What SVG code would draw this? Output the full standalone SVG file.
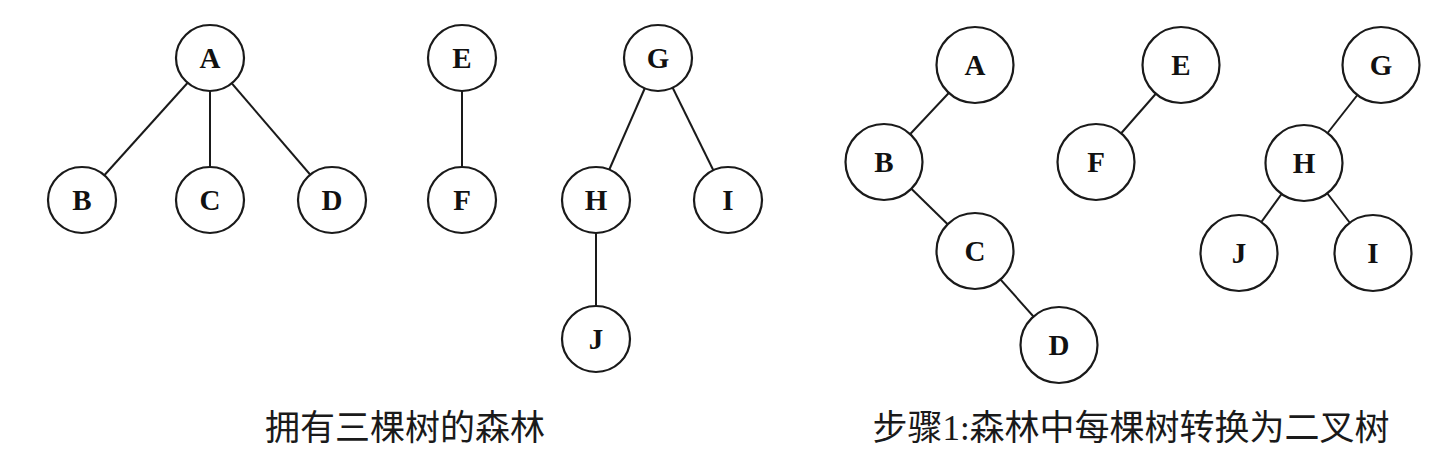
<svg xmlns="http://www.w3.org/2000/svg" width="1434" height="453" viewBox="0 0 1434 453">
<style>
.n ellipse{fill:#fff;stroke:#1a1a1a;stroke-width:2.2}
.n text{font-family:"Liberation Serif","DejaVu Serif",serif;font-size:29px;text-anchor:middle;fill:#111;font-weight:bold}
.e line{stroke:#1a1a1a;stroke-width:2}
.cap{font-family:"Liberation Serif","Noto Sans CJK SC",serif;font-size:35px;fill:#1a1a1a;text-anchor:middle}
</style>
<rect width="1434" height="453" fill="#fff"/>
<g id="connectors" class="e">
<line x1="210" y1="58" x2="82" y2="200"/>
<line x1="210" y1="58" x2="210" y2="200"/>
<line x1="210" y1="58" x2="332" y2="200"/>
<line x1="462" y1="58" x2="462" y2="200"/>
<line x1="658" y1="58" x2="596" y2="200"/>
<line x1="658" y1="58" x2="728" y2="200"/>
<line x1="596" y1="200" x2="596" y2="339"/>
<line x1="975" y1="65" x2="884" y2="162"/>
<line x1="884" y1="162" x2="975" y2="251"/>
<line x1="975" y1="251" x2="1059" y2="345"/>
<line x1="1181" y1="65" x2="1096" y2="162"/>
<line x1="1381" y1="65" x2="1304" y2="163"/>
<line x1="1304" y1="163" x2="1239" y2="253"/>
<line x1="1304" y1="163" x2="1373" y2="253"/>
</g>
<g id="L_A" class="n"><ellipse cx="210" cy="58" rx="34" ry="33"/><text x="210" y="68">A</text></g>
<g id="L_B" class="n"><ellipse cx="82" cy="200" rx="34" ry="33"/><text x="82" y="210">B</text></g>
<g id="L_C" class="n"><ellipse cx="210" cy="200" rx="34" ry="33"/><text x="210" y="210">C</text></g>
<g id="L_D" class="n"><ellipse cx="332" cy="200" rx="34" ry="33"/><text x="332" y="210">D</text></g>
<g id="L_E" class="n"><ellipse cx="462" cy="58" rx="34" ry="33"/><text x="462" y="68">E</text></g>
<g id="L_F" class="n"><ellipse cx="462" cy="200" rx="34" ry="33"/><text x="462" y="210">F</text></g>
<g id="L_G" class="n"><ellipse cx="658" cy="58" rx="34" ry="33"/><text x="658" y="68">G</text></g>
<g id="L_H" class="n"><ellipse cx="596" cy="200" rx="34" ry="33"/><text x="596" y="210">H</text></g>
<g id="L_I" class="n"><ellipse cx="728" cy="200" rx="34" ry="33"/><text x="728" y="210">I</text></g>
<g id="L_J" class="n"><ellipse cx="596" cy="339" rx="34" ry="33"/><text x="596" y="349">J</text></g>
<g id="R_A" class="n"><ellipse cx="975" cy="65" rx="38.5" ry="38"/><text x="975" y="75">A</text></g>
<g id="R_B" class="n"><ellipse cx="884" cy="162" rx="38.5" ry="38"/><text x="884" y="172">B</text></g>
<g id="R_C" class="n"><ellipse cx="975" cy="251" rx="38.5" ry="38"/><text x="975" y="261">C</text></g>
<g id="R_D" class="n"><ellipse cx="1059" cy="345" rx="38.5" ry="38"/><text x="1059" y="355">D</text></g>
<g id="R_E" class="n"><ellipse cx="1181" cy="65" rx="38.5" ry="38"/><text x="1181" y="75">E</text></g>
<g id="R_F" class="n"><ellipse cx="1096" cy="162" rx="38.5" ry="38"/><text x="1096" y="172">F</text></g>
<g id="R_G" class="n"><ellipse cx="1381" cy="65" rx="38.5" ry="38"/><text x="1381" y="75">G</text></g>
<g id="R_H" class="n"><ellipse cx="1304" cy="163" rx="38.5" ry="38"/><text x="1304" y="173">H</text></g>
<g id="R_J" class="n"><ellipse cx="1239" cy="253" rx="38.5" ry="38"/><text x="1239" y="263">J</text></g>
<g id="R_I" class="n"><ellipse cx="1373" cy="253" rx="38.5" ry="38"/><text x="1373" y="263">I</text></g>
<text class="cap" x="405" y="440">拥有三棵树的森林</text>
<text class="cap" x="1131" y="440">步骤1:森林中每棵树转换为二叉树</text>
</svg>
